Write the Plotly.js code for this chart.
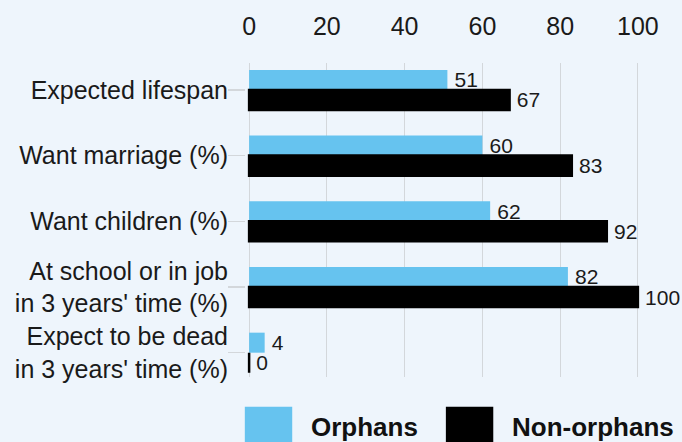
<!DOCTYPE html>
<html>
<head>
<meta charset="utf-8">
<script src="https://cdn.plot.ly/plotly-3.0.1.min.js"></script>
<style>html,body{margin:0;padding:0;background:#eef5fc;}#chart{width:682px;height:442px;}</style>
</head>
<body>
<div id="chart"></div>
<script>
const categories = [
  "Expected lifespan",
  "Want marriage (%)",
  "Want children (%)",
  "At school or in job<br>in 3 years' time (%)",
  "Expect to be dead<br>in 3 years' time (%)"
];
const seriesNames = ["Orphans", "Non-orphans"];
const orphans = [51, 60, 62, 82, 4];
const nonOrphans = [67, 83, 92, 100, 0];
const xTicks = [0, 20, 40, 60, 80, 100];
const colors = ["#66c3ef", "#000000"];

const FONT = "Liberation Sans, Arial, sans-serif";

const traces = [orphans, nonOrphans].map((vals, i) => ({
  type: "bar",
  orientation: "h",
  name: seriesNames[i],
  x: vals,
  y: categories,
  marker: {color: colors[i], line: {color: colors[i], width: i === 1 ? 2.5 : 0}},
  text: vals.map(v => "\u2009" + v),
  textposition: "outside",
  constraintext: "none",
  cliponaxis: false,
  textfont: {family: FONT, size: 21, color: "#1a1a1a"},
  showlegend: false,
  hoverinfo: "x+y"
}));

// custom legend with large swatches (paper coordinates)
const legendX = [-0.003, 0.506];
const shapes = seriesNames.map((n, i) => ({
  type: "rect", xref: "paper", yref: "paper",
  x0: legendX[i], x1: legendX[i] + 0.12, y0: -0.21, y1: -0.095,
  fillcolor: colors[i], line: {width: 0}
}));
const annotations = seriesNames.map((n, i) => ({
  xref: "paper", yref: "paper",
  x: legendX[i] + 0.163, y: -0.158, xanchor: "left", yanchor: "middle",
  text: "<b>" + n + "</b>", showarrow: false,
  font: {family: FONT, size: 26, color: "#111"}
}));

const layout = {
  width: 682, height: 442,
  paper_bgcolor: "#eef5fc", plot_bgcolor: "#eef5fc",
  margin: {l: 246, r: 41, t: 63, b: 65},
  barmode: "group",
  bargap: 0.39,
  bargroupgap: 0,
  font: {family: FONT, color: "#1a1a1a"},
  xaxis: {
    side: "top",
    range: [-0.8, 100.8],
    tickvals: xTicks,
    ticktext: xTicks.map(String),
    showgrid: true, gridcolor: "#d3d7db", gridwidth: 1.2,
    zeroline: false, showline: false,
    ticks: "", ticklabelstandoff: 22,
    tickfont: {family: FONT, size: 25, color: "#1a1a1a"}
  },
  yaxis: {
    type: "category",
    range: [4.37, -0.41],
    showgrid: false, zeroline: false, showline: false,
    ticks: "outside", ticklen: 17, tickcolor: "#d3d7db", tickwidth: 1.2,
    ticklabelstandoff: -5,
    tickfont: {family: FONT, size: 25, color: "#1a1a1a"}
  },
  shapes: shapes,
  annotations: annotations,
  showlegend: false
};

Plotly.newPlot("chart", traces, layout, {displayModeBar: false, staticPlot: true});
</script>
</body>
</html>
